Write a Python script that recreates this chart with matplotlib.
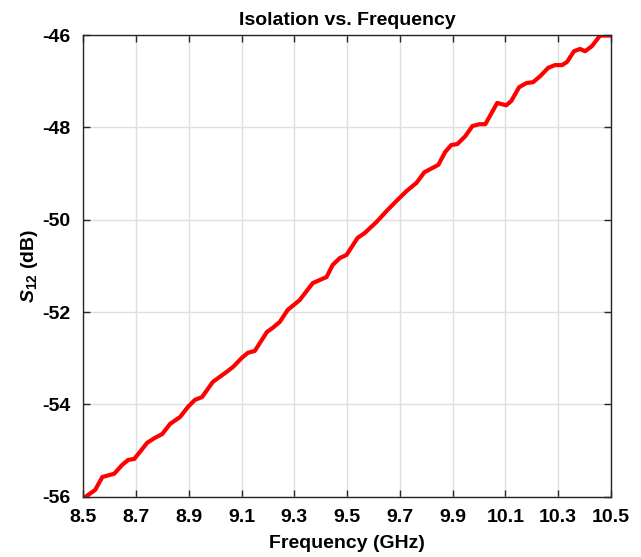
import numpy as np
import matplotlib
matplotlib.use('Agg')
import matplotlib.pyplot as plt

# values
freq = [8.500, 8.508, 8.545, 8.572, 8.617, 8.647, 8.670, 8.693, 8.742, 8.772,
        8.799, 8.829, 8.867, 8.897, 8.923, 8.950, 8.991, 9.037, 9.067, 9.101,
        9.124, 9.150, 9.196, 9.218, 9.245, 9.275, 9.320, 9.370, 9.422, 9.445,
        9.472, 9.498, 9.540, 9.566, 9.611, 9.653, 9.691, 9.725, 9.763, 9.793,
        9.846, 9.872, 9.895, 9.918, 9.948, 9.975, 10.001, 10.024, 10.069, 10.103,
        10.122, 10.152, 10.179, 10.205, 10.232, 10.262, 10.288, 10.315, 10.334, 10.360,
        10.383, 10.402, 10.428, 10.459, 10.500]
s12 = [-56.05, -56.00, -55.85, -55.57, -55.50, -55.31, -55.20, -55.18, -54.83, -54.72,
       -54.64, -54.42, -54.27, -54.05, -53.90, -53.84, -53.51, -53.32, -53.19, -52.99,
       -52.88, -52.84, -52.43, -52.34, -52.21, -51.95, -51.74, -51.37, -51.24, -50.98,
       -50.83, -50.76, -50.39, -50.29, -50.05, -49.79, -49.57, -49.38, -49.20, -48.97,
       -48.81, -48.53, -48.38, -48.36, -48.19, -47.97, -47.93, -47.93, -47.47, -47.52,
       -47.43, -47.13, -47.04, -47.02, -46.89, -46.71, -46.65, -46.65, -46.58, -46.35,
       -46.30, -46.35, -46.24, -46.01, -46.01]

xticks = [8.5, 8.7, 8.9, 9.1, 9.3, 9.5, 9.7, 9.9, 10.1, 10.3, 10.5]
yticks = [-56, -54, -52, -50, -48, -46]

params = {
    'font.family': 'Liberation Sans',
    'font.weight': 'bold',
    'font.size': 14,
    'axes.labelweight': 'bold',
    'axes.titleweight': 'bold',
    'mathtext.fontset': 'custom',
    'mathtext.it': 'Liberation Sans:italic:bold',
    'mathtext.rm': 'Liberation Sans:bold',
    'mathtext.bf': 'Liberation Sans:bold',
}
plt.rcParams.update(params)

fig = plt.figure(figsize=(6.41, 5.57), dpi=100)
ax = fig.add_axes([0.130, 0.108, 0.823, 0.829])

ax.plot(freq, s12, color='#ff0000', lw=3, solid_joinstyle='round')

ax.set_xlim(8.5, 10.5)
ax.set_ylim(-56, -46)
ax.set_xticks(xticks)
ax.set_xticklabels([('%g' % t) for t in xticks])
ax.set_yticks(yticks)
ax.set_yticklabels([('%d' % t) for t in yticks])

ax.grid(True, color='#dfdfdf', lw=1)
ax.set_axisbelow(True)
ax.tick_params(axis='x', pad=9)
ax.tick_params(axis='y', pad=9)
ax.tick_params(direction='in', length=5, width=1, top=True, right=True,
               labelsize=14, color='#262626')
for s in ax.spines.values():
    s.set_color('#262626')
    s.set_linewidth(1)

ax.set_xlabel('Frequency (GHz)', fontsize=14, labelpad=6)
ax.set_ylabel(r'$S_{\rm 12}$ (dB)', fontsize=14, labelpad=2)
ax.set_title('Isolation vs. Frequency', fontsize=14, pad=7)

fig.savefig('out.png', dpi=100)
